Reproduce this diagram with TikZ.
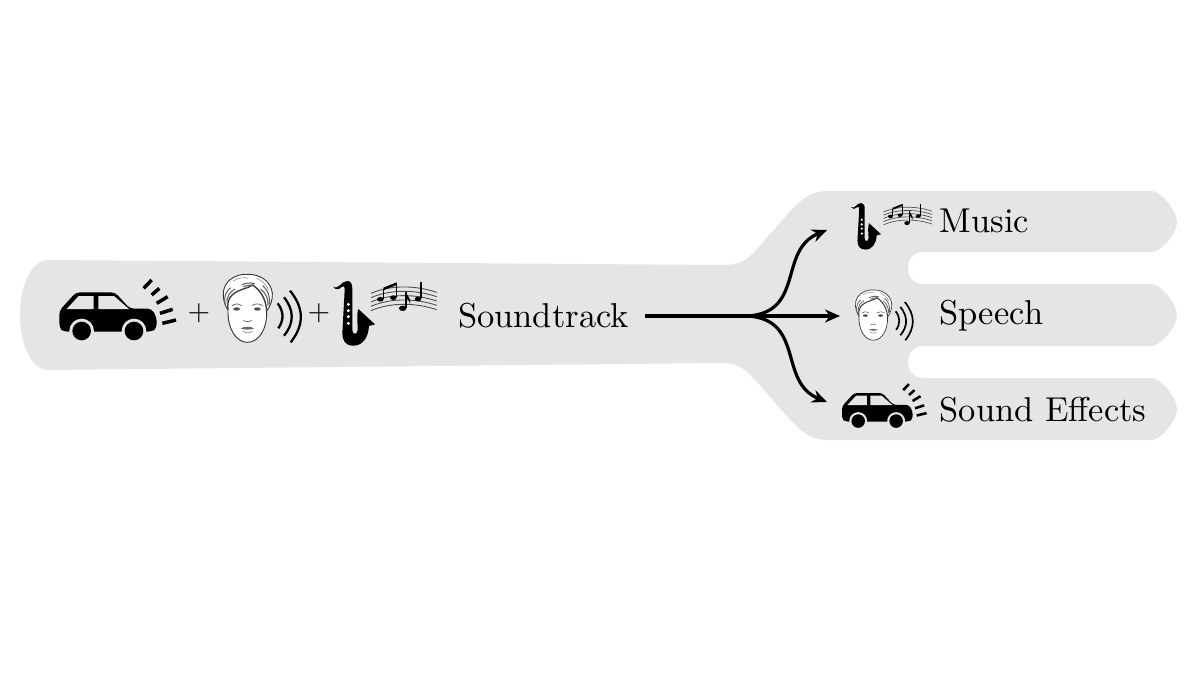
\documentclass[tikz,border=0pt]{standalone}
\usetikzlibrary{arrows.meta}
\definecolor{forkgray}{HTML}{E5E5E5}
\newcommand{\caricon}[3]{\begin{scope}[shift={(#1,#2)},scale=#3/3]
  \fill[black,rounded corners=4pt*#3] (200,215) -- (70,215) -- (58,203) -- (58,152) -- (108,97) -- (225,97) -- (270,146) -- (335,146) -- (350,172) -- (350,205) -- (335,215) -- cycle;
  \fill[forkgray] (80,147) -- (161,147) -- (161,108) -- (116,108) -- cycle;
  \fill[forkgray] (175,147) -- (267,147) -- (222,108) -- (175,108) -- cycle;
  \foreach \cx in {125,282}{
    \fill[forkgray] (\cx,213) circle (37);
    \fill[black] (\cx,213) circle (28);}
  \draw[black,line width=#3*3.5pt,line cap=butt]
    (311,85) -- (335,60) (335,105) -- (358,85) (350,130) -- (383,110)
    (360,160) -- (398,148) (367,190) -- (408,180);
\end{scope}}
\newcommand{\faceicon}[3]{\begin{scope}[shift={(#1,#2)},scale=#3/3]
  \filldraw[fill=white,draw=black!80,line width=#3*.9pt] (54,135) .. controls (38,112) and (35,78) .. (48,58) .. controls (62,36) and (90,26) .. (115,28) .. controls (150,28) and (183,48) .. (187,85) .. controls (188,105) and (182,122) .. (170,138) .. controls (172,190) and (148,232) .. (112,232) .. controls (78,232) and (52,190) .. (54,135) -- cycle;
  \draw[black!75,line width=#3*1.4pt] (54,135) .. controls (50,105) and (60,85) .. (100,72) .. controls (112,68) and (120,65) .. (128,60) .. controls (150,75) and (168,100) .. (170,138);
  \draw[black!60,line width=#3*1.1pt] (46,120) .. controls (40,95) and (50,75) .. (62,68) (52,118) .. controls (48,95) and (60,80) .. (75,72) (95,60) .. controls (105,54) and (120,52) .. (135,56) (100,66) .. controls (110,60) and (120,60) .. (130,60) (178,118) .. controls (182,95) and (172,72) .. (158,62) (174,122) .. controls (176,100) and (165,82) .. (152,72);
  \draw[black!45,line width=#3*.6pt] (70,48) .. controls (85,38) and (100,36) .. (115,40) (140,40) .. controls (155,45) and (170,60) .. (176,75);
  \fill[black!70] (80,132) ellipse (10 and 5) (142,132) ellipse (10 and 5);
  \draw[black!60,line width=#3*.8pt] (66,122) .. controls (78,114) and (88,116) .. (96,122) (126,122) .. controls (134,116) and (146,114) .. (158,122);
  \draw[black!60,line width=#3*.7pt] (100,166) .. controls (106,171) and (118,171) .. (125,166);
  \fill[black!60] (92,190) .. controls (105,184) and (120,184) .. (133,190) .. controls (120,195) and (105,195) .. (92,190) -- cycle;
  \draw[black!50,line width=#3*.6pt] (98,198) .. controls (106,205) and (120,205) .. (128,198);
  \draw[black,line width=#3*2.3pt] (203,115) .. controls (222,140) and (222,165) .. (205,190);
  \draw[black,line width=#3*2.3pt] (222,97) .. controls (253,135) and (253,175) .. (222,212);
  \draw[black,line width=#3*2.3pt] (240,77) .. controls (283,130) and (283,180) .. (242,232);
\end{scope}}
\newcommand{\saxicon}[3]{\begin{scope}[shift={(#1,#2)},scale=#3/3]
  \fill[black] (100,65) .. controls (118,75) and (122,48) .. (142,48) .. controls (153,48) and (157,58) .. (157,72) -- (157,195) .. controls (157,210) and (172,210) .. (173,195) .. controls (174,175) and (168,155) .. (175,132) -- (225,178) -- (207,183) .. controls (205,215) and (190,242) .. (160,242) .. controls (135,242) and (127,225) .. (127,205) -- (134,75) .. controls (134,62) and (130,62) .. (125,66) .. controls (118,74) and (105,76) .. (100,65) -- cycle;
  \fill[white] (145,118) circle (5) (145,137) circle (5) (145,155) circle (5) (145,175) circle (5);
\end{scope}}
\newcommand{\musicicon}[3]{\begin{scope}[shift={(#1,#2)},scale=#3/3]
  \foreach \d in {0,13,26,39,52}{
    \draw[black!70,line width=#3*.9pt] (213,{85+\d}) .. controls (270,{60+\d}) and (345,{60+\d}) .. (410,{82+\d});}
  \fill[black] (250,68) -- (290,52) -- (290,60) -- (250,76) -- cycle;
  \draw[black,line width=#3*1.5pt] (250,72) -- (250,102) (289,55) -- (289,97) (318,82) -- (318,128) (363,52) -- (363,100);
  \fill[black] (241,103) ellipse (10 and 7) (280,98) ellipse (10 and 7) (308,130) ellipse (11 and 8) (354,102) ellipse (10 and 7);
  \fill[black] (318,82) .. controls (322,95) and (335,100) .. (330,118) .. controls (328,105) and (322,102) .. (318,100) -- cycle;
\end{scope}}
\tikzset{
  lbl/.style={scale=3.45,transform shape,inner sep=0pt,anchor=base west,text=black},
  plussign/.style={scale=2.9,transform shape,inner sep=0pt,text=black},
  trunk/.style={line width=4.5pt,black},
  branchline/.style={line width=3.2pt,black,-{Stealth[length=15pt,width=13pt]}}
}
\begin{document}
\begin{tikzpicture}[x=1pt,y=-1pt]
\useasboundingbox (0,0) rectangle (1200,675);
\fill[white] (0,0) rectangle (1200,675);
\fill[forkgray] (48,260) -- (720,265) .. controls (740,265) and (745,262) .. (757,249) -- (785,217) .. controls (800,200) and (810,191) .. (828,191)
  -- (1152,191) .. controls (1160,191) and (1177,210) .. (1177,222) .. controls (1177,234) and (1160,252) .. (1152,252)
  -- (923,252) .. controls (903,252) and (903,284) .. (923,284)
  -- (1152,284) .. controls (1160,284) and (1177,303) .. (1177,315) .. controls (1177,327) and (1160,346) .. (1152,346)
  -- (923,346) .. controls (903,346) and (903,378) .. (923,378)
  -- (1152,378) .. controls (1160,378) and (1177,397) .. (1177,409) .. controls (1177,421) and (1160,440) .. (1152,440)
  -- (828,440) .. controls (810,440) and (800,431) .. (785,414) -- (757,382) .. controls (745,369) and (740,363) .. (720,363)
  -- (48,370) .. controls (32,370) and (20,345) .. (20,315) .. controls (20,285) and (32,260) .. (48,260) -- cycle;
\caricon{40}{260}{1}
\faceicon{210}{265}{1}
\saxicon{300}{265}{1}
\musicicon{300}{265}{1}
\caricon{828}{369.6}{.725}
\faceicon{845.6}{283}{.74}
\saxicon{827}{191.5}{.72}
\musicicon{831}{191}{.74}
\node[plussign] (plusa) at (199,313) {$+$};
\node[plussign] (plusb) at (319,313) {$+$};
\node[lbl] (soundtrack) at (457.5,327) {Soundtrack};
\node[lbl] (music) at (939,232) {Music};
\node[lbl] (speech) at (939,324) {Speech};
\node[lbl] (effects) at (939,421) {Sound Effects};
\coordinate (src) at (645,316);
\coordinate (split) at (748,316);
\coordinate (tmusic) at (827,230);
\coordinate (tspeech) at (840,316);
\coordinate (teffects) at (827,402);
\draw[trunk] (src) -- (split);
\draw[branchline] (split) .. controls (805,312) and (778,250) .. (tmusic);
\draw[branchline] (split) -- (tspeech);
\draw[branchline] (split) .. controls (805,320) and (778,382) .. (teffects);
\end{tikzpicture}
\end{document}
